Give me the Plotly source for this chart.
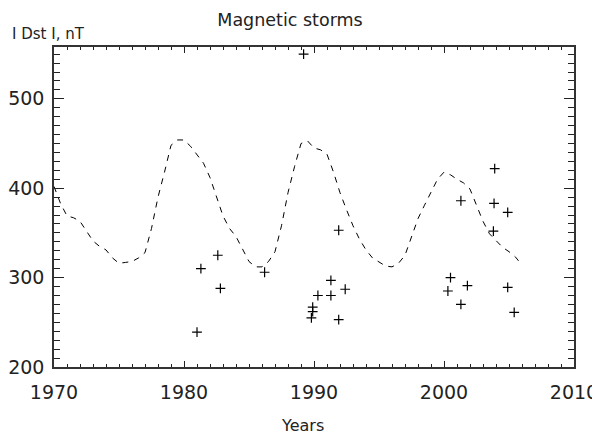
import plotly.graph_objects as go

# Smoothed curve (dashed)
curve_years = [1970.0, 1970.5, 1971.0, 1971.5, 1972.0, 1972.5, 1973.0, 1973.5, 1974.0, 1974.5,
               1975.0, 1975.5, 1976.0, 1976.5, 1977.0, 1977.5, 1978.0, 1978.5, 1979.0, 1979.5,
               1980.0, 1980.5, 1981.0, 1981.5, 1982.0, 1982.5, 1983.0, 1983.5, 1984.0, 1984.5,
               1985.0, 1985.5, 1986.0, 1986.5, 1987.0, 1987.5, 1988.0, 1988.5, 1989.0, 1989.5,
               1990.0, 1990.5, 1991.0, 1991.5, 1992.0, 1992.5, 1993.0, 1993.5, 1994.0, 1994.5,
               1995.0, 1995.5, 1996.0, 1996.5, 1997.0, 1997.5, 1998.0, 1998.5, 1999.0, 1999.5,
               2000.0, 2000.5, 2001.0, 2001.5, 2002.0, 2002.5, 2003.0, 2003.5, 2004.0, 2004.5,
               2005.0, 2005.5, 2006.0]
curve_dst = [402, 383, 369, 367, 363, 352, 341, 335, 331, 322,
             316, 317, 318, 322, 328, 355, 390, 418, 448, 454,
             454, 447, 438, 428, 412, 390, 369, 355, 346, 332,
             318, 312, 312, 318, 329, 358, 395, 424, 450, 453,
             445, 443, 438, 418, 395, 376, 358, 343, 331, 322,
             317, 313, 312, 316, 325, 345, 366, 381, 396, 410,
             418, 415, 410, 406, 399, 382, 363, 349, 341, 334,
             329, 323, 314]

# Individual storms (crosses)
storm_years = [1981.0, 1981.3, 1982.6, 1982.8, 1986.2, 1989.2, 1989.8, 1989.9, 1989.9, 1990.3,
               1991.3, 1991.3, 1991.9, 1991.9, 1992.4, 2000.3, 2000.5, 2001.3, 2001.3, 2001.8,
               2003.8, 2003.85, 2003.9, 2004.9, 2004.9, 2005.4]
storm_dst = [239, 310, 325, 288, 306, 550, 255, 262, 267, 280,
             280, 297, 253, 353, 287, 285, 300, 270, 386, 291,
             352, 383, 422, 373, 289, 261]

x_ticks = [1970, 1980, 1990, 2000, 2010]
y_ticks = [200, 300, 400, 500]

FONT = "DejaVu Sans"
# page body has an 8px default margin; size figure to fit the 600x434 window
OFF = 8
W, H = 600 - OFF, 434 - OFF
L, R, T, B = 54 - OFF, 26, 47 - OFF, 67
PW, PH = W - L - R, H - T - B


def px_to_paper(px, py):
    return (px - OFF - L) / PW, (H - B - (py - OFF)) / PH


fig = go.Figure()
fig.add_trace(go.Scatter(x=curve_years, y=curve_dst, mode="lines",
                         line=dict(color="black", width=1, dash="6px,6px"),
                         showlegend=False))
fig.add_trace(go.Scatter(x=storm_years, y=storm_dst, mode="markers",
                         marker=dict(symbol="cross-thin", size=7,
                                     line=dict(color="black", width=1.2)),
                         showlegend=False))

fig.update_layout(
    width=W, height=H,
    margin=dict(l=L, r=R, t=T, b=B, pad=0, autoexpand=False),
    plot_bgcolor="white", paper_bgcolor="white",
    font=dict(family=FONT, size=19, color="#222"),
    title=dict(text="Magnetic storms", x=(290 - OFF) / W, xanchor="center",
               y=1 - (20 - OFF) / H, yanchor="middle", font=dict(size=17.5, family=FONT, color="#222")),
    xaxis=dict(range=[1970, 2010], tickvals=x_ticks, ticktext=[str(v) for v in x_ticks],
               ticks="inside", ticklen=6, tickwidth=1.2, tickcolor="#222",
               showline=True, linecolor="#333", linewidth=1.5, mirror="allticks",
               showgrid=False, zeroline=False, automargin=False,
               tickfont=dict(size=19, family=FONT, color="#222"),
               minor=dict(dtick=1, ticks="inside", ticklen=3, tickwidth=1, tickcolor="#222", showgrid=False),
               ticklabelstandoff=7),
    yaxis=dict(range=[200, 558], tickvals=y_ticks, ticktext=[str(v) for v in y_ticks],
               ticks="inside", ticklen=10, tickwidth=1.2, tickcolor="#222",
               showline=True, linecolor="#333", linewidth=1.5, mirror="allticks",
               showgrid=False, zeroline=False, automargin=False,
               tickfont=dict(size=19, family=FONT, color="#222"),
               minor=dict(dtick=10, ticks="inside", ticklen=6, tickwidth=1, tickcolor="#222", showgrid=False),
               ticklabelstandoff=4),
)

ax, ay = px_to_paper(10, 34)
fig.add_annotation(text="I Dst I, nT", xref="paper", yref="paper", x=ax, y=ay,
                   xanchor="left", yanchor="middle", showarrow=False,
                   font=dict(size=15, family=FONT, color="#222"))
ax, ay = px_to_paper(302, 425)
fig.add_annotation(text="Years", xref="paper", yref="paper", x=ax, y=ay,
                   xanchor="center", yanchor="middle", showarrow=False,
                   font=dict(size=16, family=FONT, color="#222"))

fig.write_html("out.html")
